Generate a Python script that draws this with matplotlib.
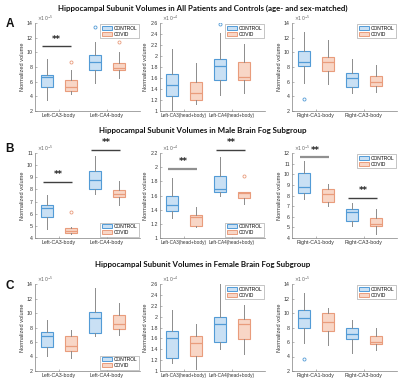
import matplotlib
matplotlib.use('Agg')
import matplotlib.pyplot as plt
from matplotlib.patches import Patch
from matplotlib.ticker import FuncFormatter

# ---------------- data (values in units of the axis exponent) ----------------
# each box: [whisker_low, q1, median, q3, whisker_high]; order CONTROL, COVID, CONTROL, COVID
groups = ["CONTROL", "COVID"]
labels_col1 = ["Left-CA3-body", "Left-CA4-body"]
labels_col2 = ["Left-CA3(head+body)", "Left-CA4(head+body)"]
labels_col3 = ["Right-CA1-body", "Right-CA3-body"]

a1_boxes = [[3.44, 5.32, 6.65, 6.85, 9.05], [4.36, 4.68, 5.28, 6.28, 7.6],
            [5.78, 7.6, 8.75, 9.6, 11.35], [6.56, 7.6, 7.9, 8.6, 10.0]]
a1_fliers = [[], [8.75], [13.5], [11.35]]
a2_boxes = [[1.02, 1.267, 1.465, 1.67, 2.12], [1.13, 1.205, 1.33, 1.527, 1.875],
            [1.30, 1.56, 1.82, 1.95, 2.41], [1.32, 1.565, 1.62, 1.89, 2.21]]
a2_fliers = [[], [], [2.59], []]
a3_boxes = [[5.87, 8.16, 8.75, 10.12, 12.72], [5.64, 7.52, 8.66, 9.3, 11.72],
            [4.5, 5.32, 6.47, 7.24, 9.11], [4.55, 5.42, 6.0, 6.83, 8.3]]
a3_fliers = [[3.63], [], [], []]

b1_boxes = [[4.72, 5.71, 6.48, 6.73, 7.58], [4.33, 4.39, 4.58, 4.8, 4.88],
            [7.64, 8.02, 8.8, 9.54, 10.78], [6.7, 7.36, 7.64, 7.94, 8.71]]
b1_fliers = [[], [6.12], [], []]
b2_boxes = [[1.282, 1.386, 1.466, 1.60, 1.847], [1.155, 1.165, 1.297, 1.325, 1.44],
            [1.588, 1.65, 1.69, 1.87, 2.148], [1.48, 1.565, 1.635, 1.645, 1.645]]
b2_fliers = [[], [], [], [1.88]]
b3_boxes = [[7.71, 8.24, 8.77, 10.12, 11.28], [7.05, 7.39, 8.18, 8.65, 9.08],
            [5.17, 5.57, 6.42, 6.73, 7.3], [4.41, 5.17, 5.35, 5.92, 6.73]]
b3_fliers = [[], [], [], []]

c1_boxes = [[4.12, 5.37, 6.89, 7.35, 9.02], [3.85, 4.72, 5.46, 6.89, 7.59],
            [6.85, 7.31, 9.25, 10.08, 13.49], [7.03, 7.86, 8.46, 9.66, 11.32]]
c1_fliers = [[], [], [], []]
c2_boxes = [[1.155, 1.236, 1.61, 1.728, 2.12], [1.03, 1.267, 1.517, 1.64, 1.87],
            [1.405, 1.54, 1.87, 1.996, 2.6], [1.31, 1.59, 1.87, 1.965, 2.21]]
c2_fliers = [[], [], [], []]
c3_boxes = [[5.92, 8.0, 9.29, 10.4, 12.7], [5.65, 7.49, 8.69, 9.94, 10.72],
            [4.54, 6.43, 7.17, 7.95, 9.06], [4.86, 5.79, 6.02, 6.89, 7.95]]
c3_fliers = [[3.66], [], [], []]

# significance bars: (x_start, x_end, y)
b1_sig = [(0.85, 2.05, 8.63), (2.85, 4.05, 11.28)]
b2_sig = [(0.85, 2.05, 1.974), (2.85, 4.05, 2.247)]
b3_sig = [(0.85, 2.05, 11.6), (2.85, 4.05, 7.77)]
a1_sig = [(0.8, 2.0, 10.8)]

titles = ["Hippocampal Subunit Volumes in All Patients and Controls (age- and sex-matched)",
          "Hippocampal Subunit Volumes in Male Brain Fog Subgroup",
          "Hippocampal Subunit Volumes in Female Brain Fog Subgroup"]

# ---------------- style ----------------
FACE = ["#c9e0f4", "#f8d6c6"]
EDGE = ["#529bd6", "#e99c7c"]
WHISK = "#8c8c8c"
TICKFONT = "Liberation Sans"

fig = plt.figure(figsize=(4.0, 3.82), dpi=100)
W, H = 400.0, 382.0

col_left = [35, 160, 292]
col_w = 105
rows = [(23, 111), (153, 238), (284, 371)]


def make_ax(col, row):
    x0 = col_left[col]
    yt, yb = rows[row]
    return fig.add_axes([x0 / W, 1 - yb / H, col_w / W, (yb - yt) / H])


def draw(ax, boxes, fliers, ylim, ystep, exp, xlabels, legend_loc, sigs=None,
         sig_styles=None, xlsize=3.8):
    stats = []
    for b, f in zip(boxes, fliers):
        stats.append(dict(whislo=b[0], q1=b[1], med=b[2], q3=b[3], whishi=b[4], fliers=f))
    res = ax.bxp(stats, positions=[1, 2, 3, 4], widths=0.52, patch_artist=True,
                 showcaps=False, manage_ticks=False)
    for i in range(4):
        g = i % 2
        res['boxes'][i].set(facecolor=FACE[g], edgecolor=EDGE[g], linewidth=0.8)
        res['medians'][i].set(color=EDGE[g], linewidth=0.9)
        res['fliers'][i].set(marker='o', markersize=2.2, markerfacecolor='none',
                             markeredgecolor=EDGE[g], markeredgewidth=0.6)
    for w in res['whiskers']:
        w.set(color=WHISK, linewidth=0.7)
    ax.set_xlim(0.5, 4.875)
    ax.set_ylim(*ylim)
    ticks = []
    t = ylim[0]
    while t <= ylim[1] + 1e-9:
        ticks.append(round(t, 4))
        t += ystep
    ax.set_yticks(ticks)
    ax.yaxis.set_major_formatter(FuncFormatter(lambda v, p: "%g" % v))
    ax.set_xticks([1.5, 3.5])
    ax.set_xticklabels(xlabels)
    for s in ['top', 'right']:
        ax.spines[s].set_visible(False)
    for s in ['left', 'bottom']:
        ax.spines[s].set_color('#808080')
        ax.spines[s].set_linewidth(0.5)
    ax.tick_params(direction='in', length=1.5, width=0.4, color='#808080',
                   labelsize=3.8, labelcolor='#333333', pad=1.5)
    ax.tick_params(axis='x', labelsize=xlsize)
    for lab in ax.get_xticklabels() + ax.get_yticklabels():
        lab.set_fontfamily(TICKFONT)
    ax.set_ylabel("Normalized volume", fontsize=4.1, family=TICKFONT, color='#333333', labelpad=1.5)
    ax.text(0.02, 1.0, r"$\times10^{%d}$" % exp, transform=ax.transAxes, fontsize=3.4,
            color='#666666', va='bottom', ha='left', family=TICKFONT)
    handles = [Patch(facecolor=FACE[g], edgecolor=EDGE[g], linewidth=0.7) for g in range(2)]
    ax.legend(handles, groups, loc=legend_loc, fontsize=3.5, frameon=True, fancybox=False,
              edgecolor='#999999', framealpha=1, handlelength=2.0, handleheight=0.9,
              borderpad=0.3, labelspacing=0.2, handletextpad=0.4, borderaxespad=0.3,
              prop={'family': TICKFONT, 'size': 3.5}).get_frame().set_linewidth(0.4)
    if sigs:
        for k, (xa, xb, y) in enumerate(sigs):
            c, lw = ('#404040', 1.0)
            if sig_styles:
                c, lw = sig_styles[k]
            ax.plot([xa, xb], [y, y], color=c, linewidth=lw, clip_on=False,
                    solid_capstyle='butt')
            yr = ylim[1] - ylim[0]
            ax.text((xa + xb) / 2, y + 0.03 * yr, "**", ha='center', va='bottom',
                    fontsize=6, fontweight='bold', color='#222222', clip_on=False)


axA1 = make_ax(0, 0)
draw(axA1, a1_boxes, a1_fliers, (2, 14), 2, -5, labels_col1, 'upper right', a1_sig)
axA2 = make_ax(1, 0)
draw(axA2, a2_boxes, a2_fliers, (1, 2.6), 0.2, -4, labels_col2, 'upper right', xlsize=3.45)
axA3 = make_ax(2, 0)
draw(axA3, a3_boxes, a3_fliers, (2, 14), 2, -5, labels_col3, 'upper right')

axB1 = make_ax(0, 1)
draw(axB1, b1_boxes, b1_fliers, (4, 11), 1, -5, labels_col1, 'lower right', b1_sig)
axB2 = make_ax(1, 1)
draw(axB2, b2_boxes, b2_fliers, (1, 2.2), 0.2, -4, labels_col2, 'lower right', b2_sig,
     [('#909090', 1.6), ('#404040', 1.0)], xlsize=3.45)
axB3 = make_ax(2, 1)
draw(axB3, b3_boxes, b3_fliers, (4, 12), 1, -5, labels_col3, 'upper right', b3_sig,
     [('#909090', 1.6), ('#404040', 1.0)])

axC1 = make_ax(0, 2)
draw(axC1, c1_boxes, c1_fliers, (2, 14), 2, -5, labels_col1, 'lower right')
axC2 = make_ax(1, 2)
draw(axC2, c2_boxes, c2_fliers, (1, 2.6), 0.2, -4, labels_col2, 'upper right', xlsize=3.45)
axC3 = make_ax(2, 2)
draw(axC3, c3_boxes, c3_fliers, (2, 14), 2, -5, labels_col3, 'upper right')

# titles and panel letters
title_y = [8, 131, 265]
for t, y in zip(titles, title_y):
    fig.text(203 / W, 1 - y / H, t, ha='center', va='center', fontsize=5.7,
             fontweight='bold', family='Lato', color='#111111')
for letter, y in zip(["A", "B", "C"], [24, 149, 286]):
    fig.text(10 / W, 1 - y / H, letter, ha='center', va='center', fontsize=8.5,
             fontweight='bold', family='Liberation Sans', color='#111111')

fig.savefig("out.png", dpi=100)
